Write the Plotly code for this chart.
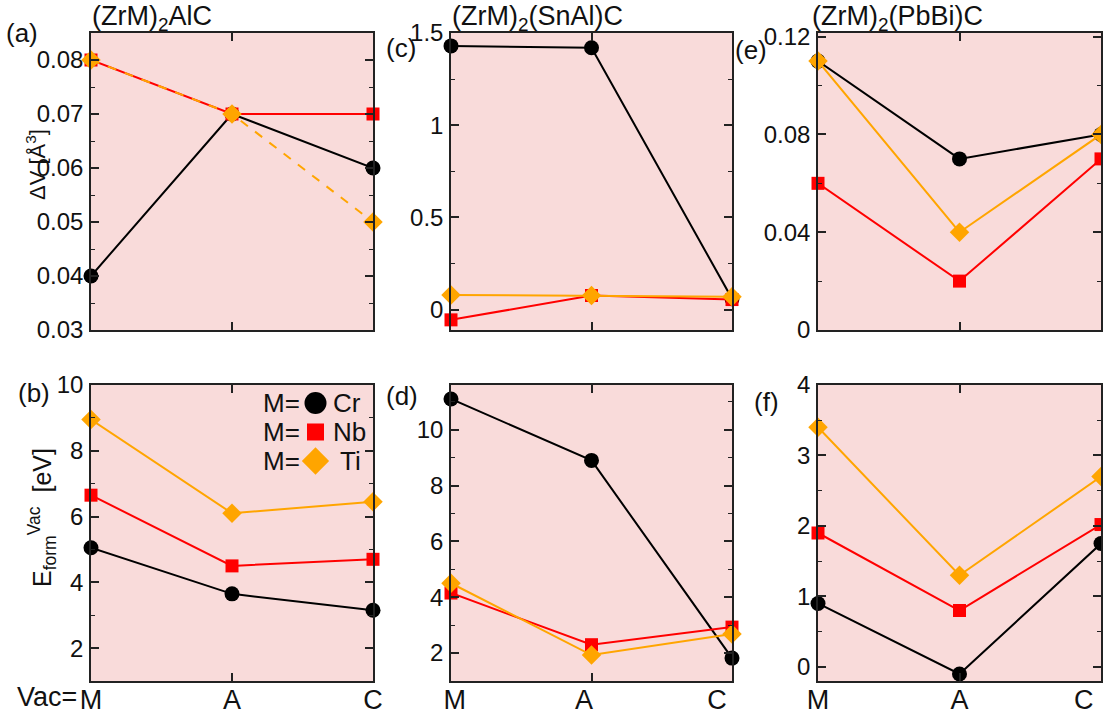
import plotly.graph_objects as go

W, H = 1103, 715

vac_sites = ["M", "A", "C"]
metals = ["Cr", "Nb", "Ti"]

# (a) Delta V, (ZrM)2AlC
dv_alc_cr = [0.04, 0.07, 0.06]
dv_alc_nb = [0.08, 0.07, 0.07]
dv_alc_ti = [0.08, 0.07, 0.05]
# (b) E_form, (ZrM)2AlC
ef_alc_cr = [5.05, 3.65, 3.15]
ef_alc_nb = [6.65, 4.5, 4.7]
ef_alc_ti = [8.95, 6.1, 6.45]
# (c) Delta V, (ZrM)2(SnAl)C
dv_snal_cr = [1.43, 1.42, 0.06]
dv_snal_nb = [-0.055, 0.077, 0.055]
dv_snal_ti = [0.08, 0.077, 0.07]
# (d) E_form, (ZrM)2(SnAl)C
ef_snal_cr = [11.1, 8.9, 1.82]
ef_snal_nb = [4.15, 2.3, 2.93]
ef_snal_ti = [4.5, 1.93, 2.68]
# (e) Delta V, (ZrM)2(PbBi)C
dv_pbbi_cr = [0.11, 0.07, 0.08]
dv_pbbi_nb = [0.06, 0.02, 0.07]
dv_pbbi_ti = [0.11, 0.04, 0.08]
# (f) E_form, (ZrM)2(PbBi)C
ef_pbbi_cr = [0.9, -0.1, 1.75]
ef_pbbi_nb = [1.9, 0.8, 2.02]
ef_pbbi_ti = [3.4, 1.3, 2.7]

titles = ["(ZrM)<sub>2</sub>AlC", "(ZrM)<sub>2</sub>(SnAl)C", "(ZrM)<sub>2</sub>(PbBi)C"]
panel_labels = ["(a)", "(b)", "(c)", "(d)", "(e)", "(f)"]

COL = {"Cr": "#000000", "Nb": "#FF0000", "Ti": "#FFA500"}
SYM = {"Cr": "circle", "Nb": "square", "Ti": "diamond"}
MSIZE = {"Cr": 15, "Nb": 13, "Ti": 15}
LSIZE = {"Cr": 22, "Nb": 17, "Ti": 21}
FONT = "Liberation Sans, Arial, sans-serif"
NB = "\u00a0"


def px(x):
    return x / W


def py(y):
    return 1 - y / H


cols_px = [(91, 373), (451, 732), (818, 1101)]
rows_px = [(33, 330), (385, 681)]

# per-panel x tick texts (bottom row only shown)
xt_b = ["M", "A", "C"]
xt_d = [NB + "M", "A" + NB * 2, "C" + NB * 4]
xt_f = ["M", "A", ""]  # last label of (f) drawn as annotation (sits inside the right edge)

panels = [
    # (col, row, data dict, yrange, dtick, minor, dash_ti, xticktext)
    (0, 0, {"Cr": dv_alc_cr, "Nb": dv_alc_nb, "Ti": dv_alc_ti}, [0.03, 0.085], 0.01, 0.005, "dash", xt_b),
    (0, 1, {"Cr": ef_alc_cr, "Nb": ef_alc_nb, "Ti": ef_alc_ti}, [1, 10], 2, 1, "solid", xt_b),
    (1, 0, {"Cr": dv_snal_cr, "Nb": dv_snal_nb, "Ti": dv_snal_ti}, [-0.11, 1.5], 0.5, 0.25, "solid", xt_d),
    (1, 1, {"Cr": ef_snal_cr, "Nb": ef_snal_nb, "Ti": ef_snal_ti}, [1, 11.6], 2, 1, "solid", xt_d),
    (2, 0, {"Cr": dv_pbbi_cr, "Nb": dv_pbbi_nb, "Ti": dv_pbbi_ti}, [0, 0.1215], 0.04, 0.02, "solid", xt_f),
    (2, 1, {"Cr": ef_pbbi_cr, "Nb": ef_pbbi_nb, "Ti": ef_pbbi_ti}, [-0.2, 4], 1, 0.5, "solid", xt_f),
]

fig = go.Figure()
layout = {}
for i, (c, r, data, yr, dt, mn, dash_ti, xtt) in enumerate(panels, start=1):
    xa = "x" if i == 1 else f"x{i}"
    ya = "y" if i == 1 else f"y{i}"
    for m in metals:
        fig.add_trace(go.Scatter(
            x=vac_sites, y=data[m], xaxis=xa, yaxis=ya,
            mode="lines+markers",
            line=dict(color=COL[m], width=2, dash=(dash_ti if m == "Ti" else "solid")),
            marker=dict(symbol=SYM[m], size=MSIZE[m], color=COL[m]),
            cliponaxis=False, showlegend=False, name=m,
        ))
    x0, x1 = cols_px[c]
    y0, y1 = rows_px[r]
    layout[f"xaxis{'' if i == 1 else i}"] = dict(
        domain=[px(x0), px(x1)], anchor=ya, type="category",
        categoryorder="array", categoryarray=vac_sites,
        tickmode="array", tickvals=vac_sites, ticktext=xtt,
        range=[0, 2], showline=True, linecolor="#222", linewidth=1.5, mirror="ticks",
        ticks="inside", ticklen=8, tickcolor="#222", tickwidth=1.5,
        showgrid=False, zeroline=False, automargin=False, ticklabelstandoff=-6,
        showticklabels=(r == 1), tickfont=dict(family=FONT, size=27, color="#111"),
    )
    layout[f"yaxis{'' if i == 1 else i}"] = dict(
        domain=[py(y1), py(y0)], anchor=xa, range=yr, dtick=dt, tick0=0,
        showline=True, linecolor="#222", linewidth=1.5, mirror="ticks",
        ticks="inside", ticklen=8, tickcolor="#222", tickwidth=1.5,
        minor=dict(ticks="inside", dtick=mn, tick0=0, ticklen=4, tickcolor="#222", tickwidth=1),
        showgrid=False, zeroline=False, ticklabelstandoff=1, automargin=False,
        tickfont=dict(family=FONT, size=24, color="#111"),
    )

# manual legend: markers on a hidden helper axis placed over panel (b)
leg_idx = list(range(len(metals)))
for k, m in enumerate(metals):
    fig.add_trace(go.Scatter(
        x=[0.5], y=[leg_idx[k]], xaxis="x7", yaxis="y7", mode="markers",
        marker=dict(symbol=SYM[m], size=LSIZE[m], color=COL[m]),
        cliponaxis=False, showlegend=False, hoverinfo="skip",
    ))
layout["xaxis7"] = dict(domain=[px(300), px(331)], anchor="y7", range=[0, 1], visible=False,
                        fixedrange=True, automargin=False)
layout["yaxis7"] = dict(domain=[py(477), py(386)], anchor="x7", range=[2.552, -0.586], visible=False,
                        fixedrange=True, automargin=False)

annotations = []
# column titles
title_x = [90, 450, 810]
for t, x in zip(titles, title_x):
    annotations.append(dict(text=t, x=px(x), y=py(18), xref="paper", yref="paper",
                            xanchor="left", yanchor="middle", showarrow=False,
                            font=dict(family=FONT, size=27, color="#111")))
# panel labels
lab_pos = [(4, 33), (16, 393), (384, 48), (384, 396), (733, 50), (752, 402)]
for lab, (x, y) in zip(panel_labels, lab_pos):
    annotations.append(dict(text=lab, x=px(x), y=py(y), xref="paper", yref="paper",
                            xanchor="left", yanchor="middle", showarrow=False,
                            font=dict(family=FONT, size=26, color="#111")))
# last x label of panel (f)
annotations.append(dict(text=vac_sites[-1], x=px(1084), y=py(700), xref="paper", yref="paper",
                        xanchor="center", yanchor="middle", showarrow=False,
                        font=dict(family=FONT, size=27, color="#111")))
# y-axis titles
annotations.append(dict(text="ΔV [Å<sup>3</sup>]", x=px(36), y=py(165), xref="paper", yref="paper",
                        textangle=-90, xanchor="center", yanchor="middle", showarrow=False,
                        font=dict(family=FONT, size=22, color="#111")))
annotations.append(dict(text="E<sub>form</sub><sup>Vac</sup>  [eV]", x=px(42), y=py(518), xref="paper", yref="paper",
                        textangle=-90, xanchor="center", yanchor="middle", showarrow=False,
                        font=dict(family=FONT, size=25, color="#111")))
annotations.append(dict(text="Vac=", x=px(79), y=py(697), xref="paper", yref="paper",
                        xanchor="right", yanchor="middle", showarrow=False,
                        font=dict(family=FONT, size=27, color="#111")))
# legend texts
leg_y = [403, 432, 461]
leg_name_x = [331, 331, 338]
for m, yy, nx in zip(metals, leg_y, leg_name_x):
    annotations.append(dict(text="M=", x=px(261), y=py(yy), xref="paper", yref="paper",
                            xanchor="left", yanchor="middle", showarrow=False,
                            font=dict(family=FONT, size=26, color="#111")))
    annotations.append(dict(text=m, x=px(nx), y=py(yy), xref="paper", yref="paper",
                            xanchor="left", yanchor="middle", showarrow=False,
                            font=dict(family=FONT, size=26, color="#111")))

shapes = [dict(type="rect", xref="x7 domain", yref="y7 domain", x0=0, x1=1, y0=0, y1=1,
               fillcolor="white", line=dict(width=0), layer="below")]

fig.update_layout(
    **layout,
    width=W, height=H,
    margin=dict(l=0, r=0, t=0, b=0),
    paper_bgcolor="white", plot_bgcolor="#F9DBDA",
    font=dict(family=FONT, color="#111"),
    annotations=annotations, shapes=shapes,
    showlegend=False,
)

fig.write_html("out.html", config={"displayModeBar": False},
               post_script="document.body.style.margin='0';document.body.style.overflow='hidden';")
